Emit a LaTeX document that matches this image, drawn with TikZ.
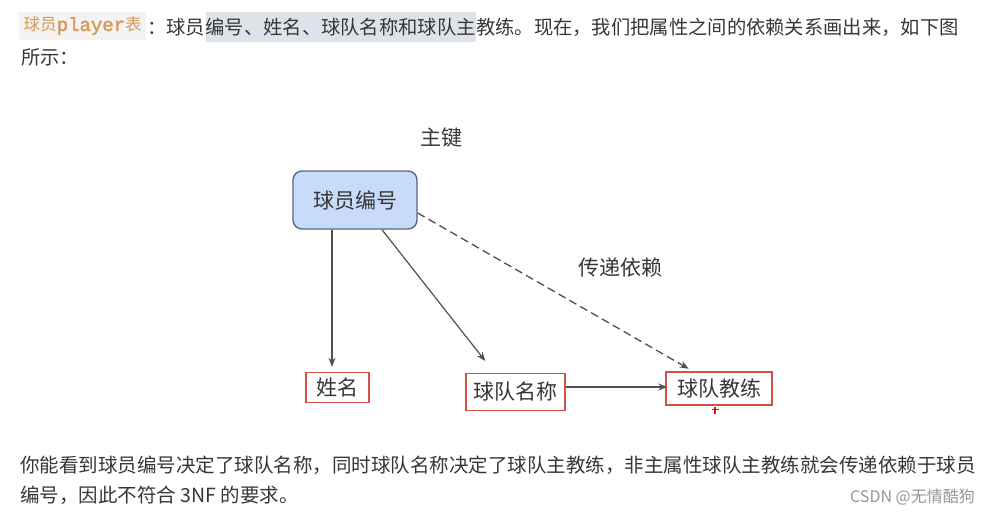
\documentclass[tikz,border=0pt]{standalone}
\usepackage{fontspec}
\newfontfamily\cjk{Noto Sans CJK SC}
\newfontfamily\monof{Liberation Mono}[FakeBold=2]
\usetikzlibrary{arrows.meta,calc}
\definecolor{txt}{RGB}{55,55,55}
\definecolor{labbg}{RGB}{244,243,242}
\definecolor{labor}{RGB}{212,155,92}
\definecolor{hl}{RGB}{222,227,234}
\definecolor{keyfill}{RGB}{200,219,250}
\definecolor{keyedge}{RGB}{90,104,124}
\definecolor{redbox}{RGB}{212,80,66}
\definecolor{linec}{RGB}{80,80,80}
\definecolor{wm}{RGB}{150,150,150}
\tikzset{
  para/.style={anchor=base west, inner sep=0, text=txt, font=\cjk\fontsize{19.3}{19.3}\selectfont},
  dia/.style={text=txt, font=\cjk\fontsize{21}{21}\selectfont},
  keybox/.style={dia, draw=keyedge, fill=keyfill, line width=1.4, rounded corners=9, minimum width=124, minimum height=58},
  attr/.style={dia, draw=redbox, line width=1.5, inner sep=0, minimum height=30},
  arr/.style={draw=linec, line width=1.2, -{Stealth[length=9,width=7]}},
}
\begin{document}
\begin{tikzpicture}[x=1pt,y=-1pt]
\useasboundingbox (0,0) rectangle (982,515);
\fill[white] (0,0) rectangle (982,515);
% intro paragraph
\node[fill=labbg, anchor=west, inner xsep=4, inner ysep=0, minimum height=28, minimum width=127, text=labor, font=\cjk\fontsize{16.5}{16.5}\selectfont] (lab) at (19,26) {球员{\monof\fontsize{19}{19}\selectfont player}表};
\node[para] (t1a) at (147,34) {：球员};
\node[para, fill=hl, inner ysep=6] (t1b) at (t1a.base east) {编号、姓名、球队名称和球队主};
\node[para] (t1c) at (t1b.base east) {教练。现在，我们把属性之间的依赖关系画出来，如下图};
\node[para] (t2) at (21,64) {所示：};
% diagram
\node[dia] (pk) at (441,138) {主键};
\node[keybox] (id) at (355,200) {球员编号};
\node[attr, minimum width=63] (name) at (337.5,387.5) {姓名};
\node[attr, minimum width=99, minimum height=37] (team) at (515.5,392) {球队名称};
\node[attr, minimum width=106, minimum height=33] (coach) at (719,388.5) {球队教练};
\node[dia] (tr) at (620,268) {传递依赖};
\draw[arr, shorten >=5] ([xshift=-23]id.south) -- ([xshift=-23]id.south |- name.north);
\draw[arr, shorten >=15] ([xshift=27]id.south) -- ([xshift=-21]team.north);
\draw[arr, dashed, line width=1.3, dash pattern=on 8pt off 4.5pt, shorten >=5] ([yshift=-13]id.east) -- ([xshift=-26]coach.north);
\draw[arr, shorten >=-2] ([yshift=5]team.east) -- ([yshift=5]team.east -| coach.west);
\draw[red, line width=1.2] ($(coach.south)+(-4,1)$) -- ++(0,7) ($(coach.south)+(-7.5,4)$) -- ++(7,0);
% conclusion paragraph
\node[para, font=\cjk\fontsize{19.5}{19.5}\selectfont] (b1) at (20,472) {你能看到球员编号决定了球队名称，同时球队名称决定了球队主教练，非主属性球队主教练就会传递依赖于球员};
\node[para, font=\cjk\fontsize{19.5}{19.5}\selectfont] (b2) at (20,502) {编号，因此不符合 3NF 的要求。};
\node[anchor=base east, inner sep=0, text=wm, font=\cjk\fontsize{16}{16}\selectfont] (wmk) at (975,502) {CSDN @无情酷狗};
\end{tikzpicture}
\end{document}
